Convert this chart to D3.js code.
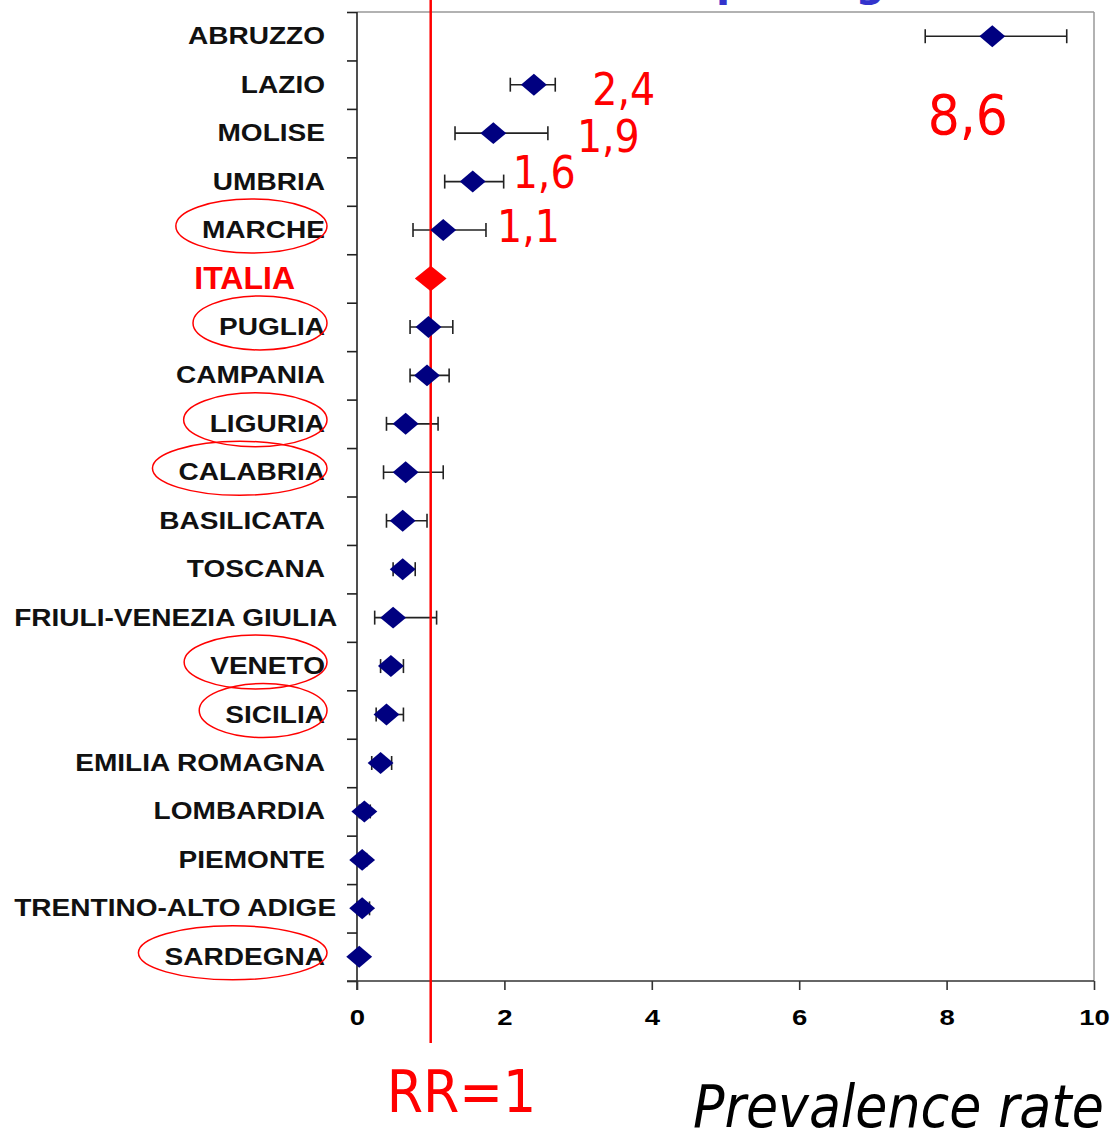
<!DOCTYPE html>
<meta charset="utf-8">
<style>
    body{ margin:0; background:#fff; }
    .lab{ font-family:"Liberation Sans", Arial, sans-serif; font-weight:bold; }
    .note{ font-family:"DejaVu Sans Condensed","DejaVu Sans",sans-serif; font-stretch:condensed; fill:#ff0000; }
</style>
<script src="https://d3js.org/d3.v7.min.js"></script>
<div id="chart"></div>
<script>
// regions, top to bottom
const regions = ["ABRUZZO","LAZIO","MOLISE","UMBRIA","MARCHE","ITALIA","PUGLIA","CAMPANIA",
    "LIGURIA","CALABRIA","BASILICATA","TOSCANA","FRIULI-VENEZIA GIULIA","VENETO","SICILIA",
    "EMILIA ROMAGNA","LOMBARDIA","PIEMONTE","TRENTINO-ALTO ADIGE","SARDEGNA"]
// prevalence rate ratio and its interval
const rr   = [8.62, 2.40, 1.85, 1.57, 1.17, 1.00, 0.97, 0.95, 0.66, 0.66, 0.62, 0.62, 0.49, 0.46, 0.40, 0.32, 0.10, 0.07, 0.07, 0.03]
const low  = [7.71, 2.08, 1.33, 1.19, 0.76, null, 0.72, 0.72, 0.40, 0.36, 0.40, 0.49, 0.24, 0.32, 0.26, 0.20, 0.03, 0.02, 0.00, 0.00]
const high = [9.63, 2.69, 2.59, 1.99, 1.75, null, 1.30, 1.25, 1.10, 1.17, 0.95, 0.79, 1.08, 0.63, 0.63, 0.47, 0.18, 0.13, 0.17, 0.06]
const xTicks = [0, 2, 4, 6, 8, 10]
const circled = ["MARCHE","PUGLIA","LIGURIA","CALABRIA","VENETO","SICILIA","SARDEGNA"]
const notes = [
    {region:"ABRUZZO", text:"8,6", dx:-139, dy:98, size:56},
    {region:"LAZIO", text:"2,4", dx:37, dy:20, size:44},
    {region:"MOLISE", text:"1,9", dx:29, dy:19, size:44},
    {region:"UMBRIA", text:"1,6", dx:9, dy:6, size:44},
    {region:"MARCHE", text:"1,1", dx:11, dy:12, size:44}
]

const data = regions.map((r, i) => ({region: r, rr: rr[i], lo: low[i], hi: high[i]}))

const W = 1115, H = 1132
const svg = d3.select("#chart").append("svg").attr("width", W).attr("height", H)

const x = d3.scaleLinear().domain([0, 10]).range([357, 1094])
const y = d3.scaleBand().domain(regions).range([12, 981])
const yc = d => y(d) + y.bandwidth() / 2
const edge = d3.scaleLinear().domain([0, regions.length]).range([12, 981])

// title (only the bottom of it is in the frame)
svg.append("text").attr("x", 850).attr("y", -4).attr("text-anchor", "middle")
    .style("font-family", "Verdana, 'DejaVu Sans', sans-serif").style("font-size", "41px")
    .style("font-weight", "bold").style("fill", "#3333cc").text("per regione")

// grey frame top and right
svg.append("line").attr("x1", x(0)).attr("x2", x(10)).attr("y1", 12).attr("y2", 12)
    .attr("stroke", "#999").attr("stroke-width", 1.5)
svg.append("line").attr("x1", x(10)).attr("x2", x(10)).attr("y1", 12).attr("y2", 981)
    .attr("stroke", "#999").attr("stroke-width", 1.5)

// y axis with ticks on the band edges
const yAxis = svg.append("g").attr("transform", `translate(${x(0)},0)`)
    .call(d3.axisLeft(edge).tickValues(d3.range(regions.length + 1)).tickFormat("").tickSize(10).tickSizeOuter(0))
yAxis.select(".domain").attr("d", "M0,12V990")
yAxis.selectAll("line, path").attr("stroke", "#222").attr("stroke-width", 1.6)

// x axis
const xAxis = svg.append("g").attr("transform", "translate(0,981)")
    .call(d3.axisBottom(x).tickValues(xTicks).tickSize(9).tickSizeOuter(0).tickFormat(d3.format("d")))
xAxis.select(".domain").attr("d", `M${x(0) - 10},0H${x(10)}`)
xAxis.selectAll("line, path").attr("stroke", "#333").attr("stroke-width", 1.6)
xAxis.attr("font-size", 22).attr("font-family", null)
xAxis.selectAll("text").attr("class", "lab").attr("y", 0).attr("dy", 0)
    .style("font-size", "22px").style("fill", "#000")
    .attr("transform", "translate(0,44) scale(1.25,1)")

// region labels
const labels = svg.append("g").selectAll("text").data(data).join("text")
    .attr("class", "lab")
    .attr("text-anchor", "end")
    .style("font-size", d => d.region == "ITALIA" ? "32px" : "23px")
    .style("fill", d => d.region == "ITALIA" ? "#ff0000" : "#111")
    .text(d => d.region)
labels.each(function(d) {
    const sx = d.region == "ITALIA" ? 1 : 1.22
    const w = this.getComputedTextLength() * sx
    let right = d.region == "ITALIA" ? 295 : Math.max(325, 14 + w)
    d.right = right; d.w = w
    d3.select(this).attr("transform", `translate(${right},${yc(d.region) + (d.region == "ITALIA" ? 11 : 8)}) scale(${sx},1)`)
})

// red ellipses around some labels
svg.append("g").selectAll("ellipse").data(data.filter(d => circled.includes(d.region))).join("ellipse")
    .attr("cx", d => d.right - d.w / 2 - 12)
    .attr("cy", d => yc(d.region) - 4)
    .attr("rx", d => Math.max(60, d.w / 2 + 14))
    .attr("ry", 27)
    .attr("fill", "none").attr("stroke", "#ff0000").attr("stroke-width", 1.5)

// error bars
const bars = data.filter(d => d.lo != null)
const eb = svg.append("g").attr("stroke", "#222").attr("stroke-width", 1.6)
eb.selectAll(".ci").data(bars).join("line")
    .attr("x1", d => x(d.lo)).attr("x2", d => x(d.hi))
    .attr("y1", d => yc(d.region)).attr("y2", d => yc(d.region))
eb.selectAll(".capl").data(bars).join("line")
    .attr("x1", d => x(d.lo)).attr("x2", d => x(d.lo))
    .attr("y1", d => yc(d.region) - 7).attr("y2", d => yc(d.region) + 7)
eb.selectAll(".caph").data(bars).join("line")
    .attr("x1", d => x(d.hi)).attr("x2", d => x(d.hi))
    .attr("y1", d => yc(d.region) - 7).attr("y2", d => yc(d.region) + 7)

// RR = 1 reference line
svg.append("line").attr("x1", x(1)).attr("x2", x(1)).attr("y1", 0).attr("y2", 1043)
    .attr("stroke", "#ff0000").attr("stroke-width", 2.5)

// diamonds
const diamond = d3.symbol(d3.symbolSquare, 240)
svg.append("g").selectAll("path").data(data).join("path")
    .attr("d", diamond)
    .attr("transform", d => {
        const big = d.region == "ITALIA"
        return `translate(${x(d.rr)},${yc(d.region)}) scale(${big ? 1.45 : 1.18},${big ? 1.17 : 1}) rotate(45)`
    })
    .attr("fill", d => d.region == "ITALIA" ? "#ff0000" : "#000080")

// red value notes
svg.append("g").selectAll("text").data(notes).join("text")
    .attr("class", "note")
    .attr("x", d => x(data.find(e => e.region == d.region).hi) + d.dx)
    .attr("y", d => yc(d.region) + d.dy)
    .style("font-size", d => d.size + "px")
    .text(d => d.text)

svg.append("text").attr("class", "note").attr("x", x(1) - 44).attr("y", 1112)
    .style("font-size", "58px").text("RR=1")

svg.append("text").attr("x", 693).attr("y", 1127)
    .style("font-family", "'DejaVu Sans Condensed','DejaVu Sans',sans-serif").style("font-stretch", "condensed")
    .style("font-style", "italic").style("font-size", "58px").style("fill", "#000")
    .text("Prevalence rate / 100.000")
</script>
